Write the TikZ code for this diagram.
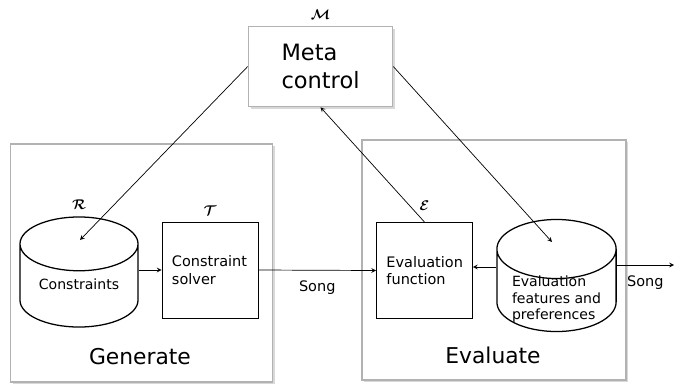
\documentclass[tikz,border=0pt]{standalone}
\usepackage{fontspec}
\setmainfont{DejaVu Sans}
\usepackage{amsmath}
\usepackage{bm}
\usepackage{tikz}
\usetikzlibrary{shapes.geometric, arrows, positioning, shadows}
\tikzstyle{frame} = [rectangle, draw=gray!60, line width=1.1pt, fill=white, drop shadow={shadow xshift=1.5pt, shadow yshift=-1.5pt, fill=gray!60}]
\tikzstyle{process} = [rectangle, minimum width=2.4cm, minimum height=2.4cm, text width=1.9cm, align=left, draw=black, line width=0.6pt, font=\fontsize{10.3}{12.3}\selectfont]
\tikzstyle{store} = [cylinder, shape border rotate=90, aspect=0.6, anchor=shape center, draw=black, line width=0.9pt, font=\fontsize{10}{11.8}\selectfont]
\tikzstyle{caption} = [font=\fontsize{15.5}{18}\selectfont]
\tikzstyle{sym} = [inner sep=1pt, font=\normalsize]
\tikzstyle{arrow} = [line width=0.5pt,->,>=stealth]
% lift the text of a cylinder without changing its size
\newcommand{\lift}[2]{\raisebox{#1}[0pt][0pt]{\begin{tabular}{@{}l@{}}#2\end{tabular}}}

\begin{document}
\begin{tikzpicture}[x=0.025cm, y=-0.025cm]
    \useasboundingbox (0,0) rectangle (674,387);
    % the two stages
    \node (generate) [frame, minimum width=6.55cm, minimum height=5.95cm] at (141.5,263) {};
    \node (evaluate) [frame, minimum width=6.6cm, minimum height=6cm] at (494,260) {};
    \node (meta) [frame, minimum width=3.6cm, minimum height=2.0cm, align=left, font=\fontsize{16}{19.4}\selectfont] at (320.5,66.5) {Meta\\control};
    \node (mlabel) [sym, above=3pt of meta] {$\bm{\mathcal{M}}$};

    \node (constraints) [store, minimum width=2.95cm, minimum height=2.75cm] at (79,272) {\lift{1.2pt}{Constraints}};
    \node (solver) [process] at (210,270) {Constraint\\solver};
    \node (evalfun) [process] at (424.5,270.5) {Evaluation\\function};
    \node (features) [store, minimum width=2.98cm, minimum height=2.8cm] at (556.5,275.5) {\lift{-5pt}{Evaluation\\features and\\preferences}};

    \node (rlabel) [sym, above=4pt of constraints.north] {$\bm{\mathcal{R}}$};
    \node (tlabel) [sym, above=3pt of solver] {$\bm{\mathcal{T}}$};
    \node (elabel) [sym, above=7pt of evalfun] {$\bm{\mathcal{E}}$};

    \node (gentext) [caption] at (140,357) {Generate};
    \node (evaltext) [caption] at (493,355) {Evaluate};

    \coordinate (rin) at (80,240);
    \coordinate (fin) at (552,242);
    \coordinate (out) at (674,265);

    \draw [arrow] (meta.west) -- (rin);
    \draw [arrow] (meta.east) -- (fin);
    \draw [arrow] (evalfun.north) -- (meta.south);
    \draw [arrow] (constraints.east |- solver.west) -- (solver.west);
    \draw [arrow] (solver.east) -- node[below=4pt, font=\fontsize{10.3}{12.3}\selectfont] {Song} (evalfun.west);
    \draw [arrow] (features.west |- 0,267) -- (evalfun.east |- 0,267);
    \draw [arrow] (features.east |- out) -- node[below=4pt, font=\fontsize{10.3}{12.3}\selectfont] {Song} (out);
\end{tikzpicture}
\end{document}
